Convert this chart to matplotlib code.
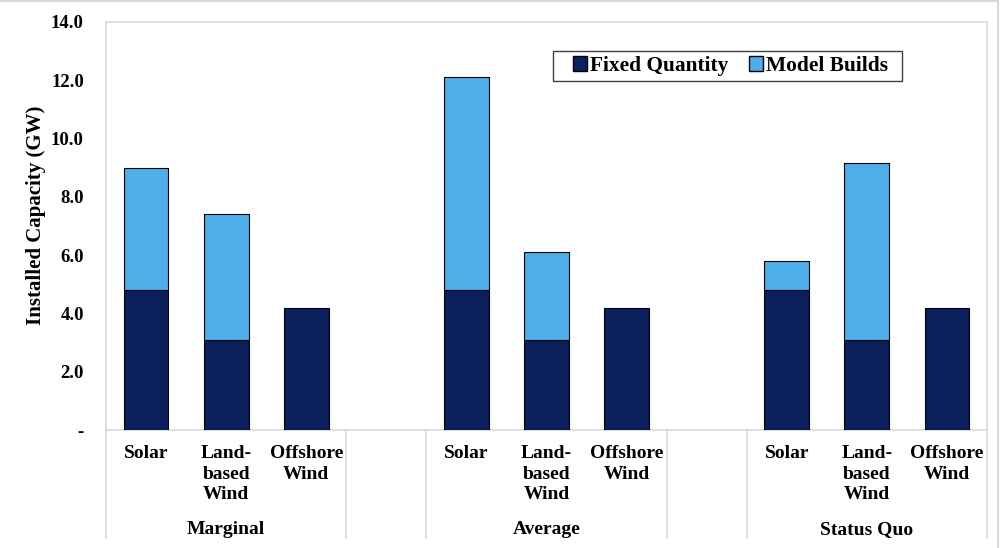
import numpy as np
import matplotlib
matplotlib.use("Agg")
import matplotlib.pyplot as plt
from matplotlib.patches import Patch, Rectangle
from matplotlib.lines import Line2D

# data (GW)
groups = ["Marginal", "", "Average", "", "Status Quo"]
group_sizes = [3, 1, 3, 1, 3]
techs = ["Solar", "Land-\nbased\nWind", "Offshore\nWind", "",
         "Solar", "Land-\nbased\nWind", "Offshore\nWind", "",
         "Solar", "Land-\nbased\nWind", "Offshore\nWind"]
fixed_quantity = [4.8, 3.1, 4.2, 0, 4.8, 3.1, 4.2, 0, 4.8, 3.1, 4.2]
model_builds = [4.2, 4.3, 0, 0, 7.3, 3.0, 0, 0, 1.0, 6.05, 0]
yticks = [0, 2, 4, 6, 8, 10, 12, 14]
ytick_labels = ["-", "2.0", "4.0", "6.0", "8.0", "10.0", "12.0", "14.0"]

navy = "#0a1f5c"
light = "#4eaee8"
grid_gray = "#d9d9d9"

plt.rcParams['font.family'] = ['Liberation Serif', 'DejaVu Serif']
plt.rcParams['font.weight'] = 'bold'

fig = plt.figure(figsize=(10, 5.48), dpi=100)
# thin frame on top and right like the original image
fig.add_artist(Line2D([0, 0.998], [0.999, 0.999], color=grid_gray, lw=1.5))
fig.add_artist(Line2D([0.998, 0.998], [0, 0.999], color=grid_gray, lw=1.5))
ax = fig.add_axes([0.106, 0.2153, 0.881, 0.7447])

x = np.arange(len(techs))
fq = np.array(fixed_quantity)
mb = np.array(model_builds)
w = 0.56
ax.bar(x[fq > 0], fq[fq > 0], w, color=navy, edgecolor="black", linewidth=0.8, zorder=3)
ax.bar(x[mb > 0], mb[mb > 0], w, bottom=fq[mb > 0], color=light,
       edgecolor="black", linewidth=0.8, zorder=3)

ax.set_xlim(-0.5, len(techs) - 0.5)
ax.set_ylim(0, 14)
ax.set_yticks(yticks)
ax.set_yticklabels(ytick_labels, fontsize=13.5, fontweight="bold")
ax.tick_params(axis="y", length=0, pad=16)
ax.set_ylabel("Installed Capacity (GW)", fontsize=15, fontweight="bold")
ax.yaxis.set_label_coords(-0.068, 0.527)

ax.set_xticks(x)
ax.set_xticklabels(techs, fontsize=14, fontweight="bold", va="top", linespacing=1.25)
ax.tick_params(axis="x", length=0, pad=11)

for s in ax.spines.values():
    s.set_color(grid_gray)
    s.set_linewidth(1.2)

# group labels and separators below the axis
fig_bottom = -0.2153 / 0.7447
trans = ax.get_xaxis_transform()
edges = np.concatenate([[0], np.cumsum(group_sizes)]) - 0.5
for e in edges:
    ax.plot([e, e], [0, fig_bottom + 0.025], transform=trans, color=grid_gray,
            lw=1.2, clip_on=False)
for g, a, b in zip(groups, edges[:-1], edges[1:]):
    if g:
        ax.text((a + b) / 2, -0.243, g, transform=trans, ha="center", va="center",
                fontsize=14, fontweight="bold")

# legend with its own frame box
ax.add_patch(Rectangle((0.5074, 0.855), 0.396, 0.0735, transform=ax.transAxes,
                       facecolor="white", edgecolor="#404040", lw=1.0, zorder=4))
handles = [Patch(facecolor=navy, edgecolor="black", label="Fixed Quantity"),
           Patch(facecolor=light, edgecolor="black", label="Model Builds")]
leg = ax.legend(handles=handles, ncol=2, loc="center left", bbox_to_anchor=(0.530, 0.892),
                prop={"size": 15.4, "weight": "bold"}, frameon=False,
                handlelength=0.65, handleheight=0.65, handletextpad=0.15, columnspacing=0.95,
                borderpad=0, borderaxespad=0)
leg.set_zorder(5)

fig.savefig("out.png", dpi=100)
